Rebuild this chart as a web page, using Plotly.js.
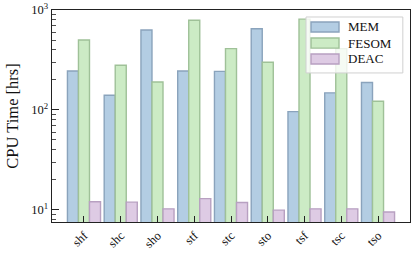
<!DOCTYPE html>
<html><head><meta charset="utf-8">
<script src="https://cdn.plot.ly/plotly-3.0.1.min.js"></script>
<style>html,body{margin:0;padding:0;background:#fff}#c{width:415px;height:257px}</style>
</head><body><div id="c"></div>
<script>
const categories = ['shf','shc','sho','stf','stc','sto','tsf','tsc','tso'];
const memValues   = [245, 140, 630, 245, 243, 650, 96, 148, 188];
const fesomValues = [500, 280, 190, 790, 410, 300, 810, 410, 122];
const deacValues  = [12.0, 11.9, 10.2, 12.9, 11.8, 9.9, 10.2, 10.2, 9.5];
const seriesNames = ['MEM','FESOM','DEAC'];
const yTickVals = [10, 100, 1000];
const yTickText = ['10<sup>1</sup>','10<sup>2</sup>','10<sup>3</sup>'];

const fills = ['#b3cde3','#ccebc5','#decbe4'];
const edges = ['#8aa3bc','#9fc198','#b8a0c1'];
const FONT = 'Liberation Serif, DejaVu Serif, serif';

const vals = [memValues, fesomValues, deacValues];
const data = vals.map((v,i)=>({
  type:'bar', x:categories, y:v, name:seriesNames[i],
  marker:{color:fills[i], line:{color:edges[i], width:1.4}},
  showlegend:false
}));

const minorVals = [];
[1,10,100].forEach(d=>{for(let k=2;k<=9;k++) minorVals.push(k*d);});
minorVals.push(8,9);

// legend drawn as shapes in paper coordinates
const shapes = [{type:'rect', xref:'paper', yref:'paper', x0:0.7095, x1:0.980, y0:0.703, y1:0.967,
  fillcolor:'rgba(255,255,255,0.8)', line:{color:'#d0d0d0', width:1}, layer:'above'}];
const annotations = [];
const rowY = [0.920, 0.844, 0.769];
seriesNames.forEach((n,i)=>{
  shapes.push({type:'rect', xref:'paper', yref:'paper', x0:0.7235, x1:0.8017,
    y0:rowY[i]-0.0236, y1:rowY[i]+0.0236, fillcolor:fills[i], line:{color:edges[i], width:1.4}, layer:'above'});
  annotations.push({xref:'paper', yref:'paper', x:0.822, y:rowY[i], xanchor:'left', yanchor:'middle',
    text:n, showarrow:false, font:{family:FONT, size:13, color:'#111'}});
});

const layout = {
  width:415, height:257,
  margin:{l:52, r:5, t:10, b:35},
  paper_bgcolor:'#fff', plot_bgcolor:'#fff',
  font:{family:FONT, color:'#111', size:12},
  barmode:'group', bargap:0.1, bargroupgap:0,
  xaxis:{type:'category', range:[-0.87, 8.87], showgrid:false, zeroline:false,
    showline:true, linecolor:'#222', linewidth:1.3, mirror:true,
    ticks:'inside', ticklen:6, tickwidth:1, tickcolor:'#222', tickangle:-45,
    tickfont:{family:FONT, size:12.5}},
  yaxis:{type:'log', range:[0.877, 3], showgrid:false, zeroline:false,
    showline:true, linecolor:'#222', linewidth:1.3, mirror:true,
    tickvals:yTickVals, ticktext:yTickText,
    ticks:'inside', ticklen:7, tickwidth:1, tickcolor:'#222',
    tickfont:{family:FONT, size:12.5},
    minor:{tickvals:minorVals, ticks:'inside', ticklen:4, tickwidth:0.8, tickcolor:'#222', showgrid:false},
    title:{text:'CPU Time [hrs]', font:{family:FONT, size:16.5}, standoff:8}},
  shapes, annotations
};
Plotly.newPlot('c', data, layout, {displayModeBar:false, staticPlot:true});
</script></body></html>
